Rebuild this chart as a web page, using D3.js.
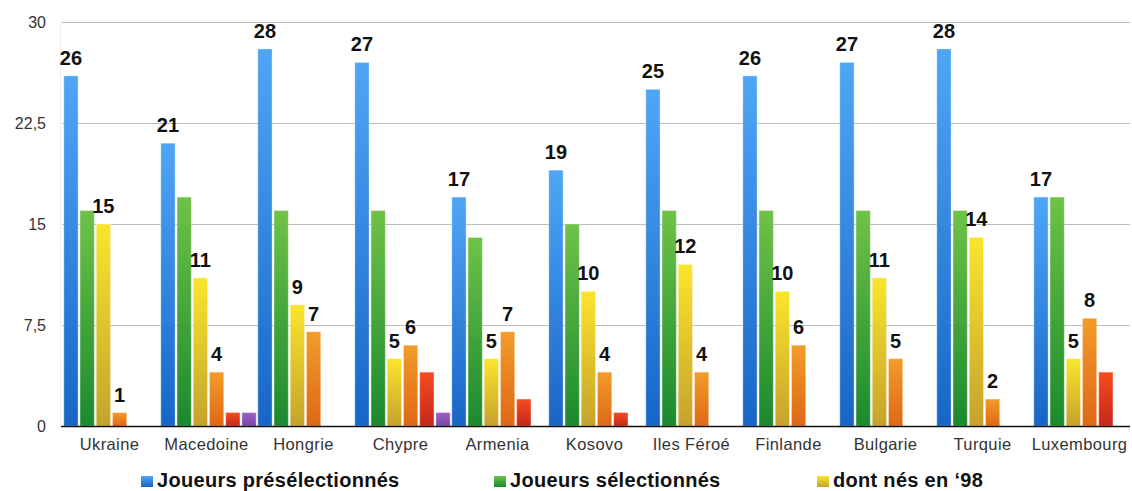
<!DOCTYPE html>
<html><head><meta charset="utf-8">
<script src="https://cdn.jsdelivr.net/npm/d3@7"></script>
<style>
html,body{margin:0;padding:0;background:#fff;}
svg{display:block;font-family:"Liberation Sans",Arial,sans-serif;}
</style></head>
<body>
<svg id="chart" width="1132" height="491"></svg>
<script>
const categories = ["Ukraine","Macedoine","Hongrie","Chypre","Armenia","Kosovo","Iles Féroé","Finlande","Bulgarie","Turquie","Luxembourg"];
const seriesNames = ["Joueurs présélectionnés","Joueurs sélectionnés","dont nés en ‘98","dont nés en ‘99","dont nés en ‘00","dont nés en ‘01"];
const preselected = [26,21,28,27,17,19,25,26,27,28,17];
const selected    = [16,17,16,16,14,15,16,16,16,16,17];
const born98      = [15,11,9,5,5,10,12,10,11,14,5];
const born99      = [1,4,7,6,7,4,4,6,5,2,8];
const born00      = [0,1,0,4,2,1,0,0,0,0,4];
const born01      = [0,1,0,1,0,0,0,0,0,0,0];
const yTicks = [0,7.5,15,22.5,30];
const legendShown = [0,1,2];
const labelledSeries = [0,2,3];

(function(){
const allSeries = [preselected,selected,born98,born99,born00,born01];
const gradColors = [["#4fa6f5","#1766c7"],["#6fc247","#1a8a2e"],["#fae52c","#c6a22c"],["#f29c2a","#de6816"],["#f54c1e","#c6271a"],["#9d62c2","#7843a6"]];

const svg = d3.select("#chart");
const defs = svg.append("defs");
gradColors.forEach((c,i)=>{
  const g = defs.append("linearGradient").attr("id","g"+i).attr("x1",0).attr("y1",0).attr("x2",0).attr("y2",1);
  g.append("stop").attr("offset","0%").attr("stop-color",c[0]);
  g.append("stop").attr("offset","100%").attr("stop-color",c[1]);
});

const pLeft = 62, pRight = 1130, pTop = 22, pBottom = 426;
const y = d3.scaleLinear().domain([0,30]).range([pBottom,pTop]);
const x0 = d3.scaleBand().domain(categories).range([pLeft+1,pRight]).paddingInner(0).paddingOuter(0);
const x1 = d3.scaleBand().domain(d3.range(allSeries.length)).range([0,x0.bandwidth()]).paddingInner(0.12).paddingOuter(0.05);

// gridlines
svg.append("g").selectAll("line").data(yTicks.filter(t=>t>0)).join("line")
  .attr("x1",pLeft).attr("x2",pRight).attr("y1",d=>Math.round(y(d))+0.5).attr("y2",d=>Math.round(y(d))+0.5)
  .attr("stroke","#bdbdbd").attr("stroke-width",1);
svg.append("line").attr("x1",pLeft-1.5).attr("x2",pLeft-1.5).attr("y1",pTop).attr("y2",pBottom)
  .attr("stroke","#eeeeee").attr("stroke-width",1);

// y axis labels
const yAxis = d3.axisLeft(y).tickValues(yTicks).tickSize(0).tickPadding(0)
  .tickFormat(d=>String(d).replace(".",","));
const ya = svg.append("g").attr("transform",`translate(46,0)`).call(yAxis);
ya.select(".domain").remove();
ya.selectAll("text").attr("font-size","16px").attr("fill","#333").attr("font-family","Liberation Sans, Arial, sans-serif");

// bars
const groups = svg.append("g").selectAll("g").data(categories).join("g")
  .attr("transform",d=>`translate(${x0(d)},0)`);
groups.selectAll("rect").data((c,ci)=>allSeries.map((s,si)=>({si,v:s[ci]})).filter(d=>d.v>0)).join("rect")
  .attr("x",d=>x1(d.si)).attr("width",x1.bandwidth())
  .attr("y",d=>y(d.v)).attr("height",d=>y(0)-y(d.v))
  .attr("fill",d=>`url(#g${d.si})`)
  .attr("stroke","rgba(255,255,255,0.35)").attr("stroke-width",1);

// data labels
groups.selectAll("text.lbl").data((c,ci)=>labelledSeries.map(si=>({si,v:allSeries[si][ci]})).filter(d=>d.v>0)).join("text")
  .attr("class","lbl")
  .attr("x",d=>x1(d.si)+x1.bandwidth()/2).attr("y",d=>y(d.v)-11)
  .attr("text-anchor","middle").attr("font-size","20px").attr("font-weight","bold").attr("fill","#111")
  .text(d=>d.v);

// baseline
svg.append("line").attr("x1",pLeft-1).attr("x2",pRight).attr("y1",pBottom+0.5).attr("y2",pBottom+0.5)
  .attr("stroke","#111").attr("stroke-width",1.5);

// x axis labels
const xAxis = d3.axisBottom(x0).tickSize(0).tickPadding(0);
const xa = svg.append("g").attr("transform",`translate(-2,${pBottom+12})`).call(xAxis);
xa.select(".domain").remove();
xa.selectAll("text").attr("font-size","16.5px").attr("fill","#333").attr("letter-spacing","0.4px")
  .attr("font-family","Liberation Sans, Arial, sans-serif");

// legend
const legendX = [141,494,817];
const lg = svg.append("g").selectAll("g").data(legendShown).join("g")
  .attr("transform",(d,i)=>`translate(${legendX[i]},0)`);
lg.append("rect").attr("x",0).attr("y",476).attr("width",12).attr("height",11).attr("fill",d=>`url(#g${d})`);
lg.append("text").attr("x",16).attr("y",487).attr("font-size","20px").attr("font-weight","bold")
  .attr("letter-spacing","0.3px").attr("fill","#111").text(d=>seriesNames[d]);
})();
</script>
</body></html>
